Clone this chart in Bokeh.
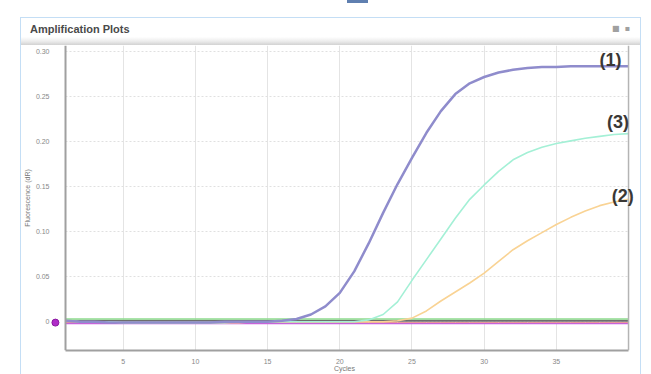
from bokeh.plotting import figure
from bokeh.models import Label, Range1d, FixedTicker, Span, Div
from bokeh.layouts import column
from bokeh.embed import file_html
from bokeh.resources import INLINE

cycles = list(range(1, 41))

curve1 = [0.001, 0.000, 0.000, -0.001, -0.001, -0.001, -0.001, -0.001, -0.001, -0.001,
          -0.001, 0.000, 0.000, 0.000, 0.000, 0.001, 0.003, 0.008, 0.017, 0.032,
          0.056, 0.087, 0.121, 0.153, 0.182, 0.210, 0.234, 0.253, 0.265, 0.272,
          0.277, 0.280, 0.282, 0.283, 0.283, 0.284, 0.284, 0.284, 0.284, 0.284]
curve3 = [0.001, 0.000, 0.000, 0.000, -0.001, -0.001, -0.001, -0.001, -0.001, -0.001,
          -0.001, -0.001, 0.000, 0.000, 0.000, 0.000, 0.000, 0.000, 0.000, 0.000,
          0.000, 0.002, 0.008, 0.022, 0.046, 0.069, 0.092, 0.115, 0.136, 0.152,
          0.167, 0.180, 0.188, 0.194, 0.198, 0.201, 0.204, 0.206, 0.208, 0.209]
curve2 = [0.001, 0.000, 0.000, 0.000, -0.001, -0.001, -0.001, -0.001, -0.001, -0.001,
          -0.001, -0.001, -0.001, 0.000, 0.000, 0.000, 0.000, 0.000, 0.000, 0.000,
          0.000, 0.000, 0.000, 0.001, 0.004, 0.012, 0.023, 0.033, 0.043, 0.054,
          0.067, 0.080, 0.090, 0.099, 0.108, 0.116, 0.123, 0.129, 0.133, 0.136]
base_green = [0.003] * 40
base_gray = [0.001] * 40
base_red = [-0.001] * 40
base_magenta = [-0.002] * 40
threshold_marker = {"cycle": [0.3], "value": [-0.001]}

y_ticks = [0, 0.05, 0.10, 0.15, 0.20, 0.25, 0.30]
y_tick_labels = {0: "0", 0.05: "0.05", 0.10: "0.10", 0.15: "0.15", 0.20: "0.20", 0.25: "0.25", 0.30: "0.30"}
x_ticks = [5, 10, 15, 20, 25, 30, 35]
curve_names = ["(1)", "(3)", "(2)"]
label_cycle = [38.75, 39.27, 39.6]
label_value = [0.291, 0.222, 0.140]

X_START, X_END = 1, 40
BLUE = "#c4def5"

header = Div(
    text=('<div style="position:relative;width:641px;height:45px;font-family:\'Liberation Sans\';">'
          '<div style="position:absolute;left:347px;top:0px;width:21px;height:3px;'
          'background:#5f7fb0;"></div>'
          '<div style="position:absolute;left:20px;top:17px;width:621px;height:28px;'
          'box-sizing:border-box;border-top:1px solid ' + BLUE + ';border-left:1px solid ' + BLUE + ';'
          'border-right:1px solid ' + BLUE + ';'
          'background:linear-gradient(to bottom,#ffffff 0%,#ffffff 70%,#ececec 86%,#d2d2d2 100%);">'
          '<span style="position:absolute;left:9px;top:4px;font-size:11px;font-weight:bold;'
          'color:#4a4a4a;white-space:nowrap;">Amplification Plots</span>'
          '<span style="position:absolute;right:10px;top:5px;font-size:8px;color:#a0a0a0;'
          'font-family:\'DejaVu Sans\';white-space:nowrap;">\u25a0&nbsp;&nbsp;\u25aa</span>'
          '</div></div>'),
    width=641, height=45, margin=0, styles={"overflow": "visible"})

p = figure(width=641, height=329, output_backend="svg", toolbar_location=None, margin=0,
           x_range=Range1d(-0.04, 40.69), y_range=Range1d(-0.032, 0.307),
           min_border_left=50, min_border_right=3, min_border_top=0, min_border_bottom=19,
           styles={"border-right": "1px solid " + BLUE, "box-sizing": "border-box",
                   "background": "linear-gradient(to right, transparent 20px, " + BLUE + " 20px, "
                                 + BLUE + " 21px, transparent 21px)"})
p.background_fill_color = "white"
p.border_fill_color = None
p.outline_line_color = None

p.xaxis.ticker = FixedTicker(ticks=x_ticks)
p.yaxis.ticker = FixedTicker(ticks=y_ticks)
p.yaxis.major_label_overrides = y_tick_labels
for ax in (p.xaxis, p.yaxis):
    ax.axis_line_color = "#a0a0a0"
    ax.axis_line_width = 2
    ax.major_tick_line_color = None
    ax.minor_tick_line_color = None
    ax.major_label_text_font = "Liberation Sans"
    ax.major_label_text_font_size = "7px"
    ax.major_label_text_color = "#888888"
    ax.axis_label_text_font = "Liberation Sans"
    ax.axis_label_text_font_size = "7px"
    ax.axis_label_text_font_style = "normal"
    ax.axis_label_text_color = "#777777"
p.yaxis.axis_line_color = None
p.xaxis.bounds = (X_START, X_END)
p.xaxis.axis_label = "Cycles"
p.yaxis.axis_label = "Fluorescence (dR)"
p.xaxis.major_label_standoff = 2
p.xaxis.axis_label_standoff = -2
p.yaxis.major_label_text_align = "left"
p.yaxis.major_label_standoff = -5
p.yaxis.axis_label_standoff = 2

p.xgrid.grid_line_color = "#e4e4e4"
p.xgrid.grid_line_width = 1
p.ygrid.grid_line_color = "#e0e0e0"
p.ygrid.grid_line_dash = "2 2"
g = p.ygrid[0]
if "cross_bounds" in g.properties():
    g.cross_bounds = (X_START, X_END)

p.add_layout(Span(location=X_START, dimension="height", line_color="#a0a0a0", line_width=2))
p.add_layout(Span(location=X_END, dimension="height", line_color="#b4b4b4", line_width=1.5))

p.line(cycles, base_magenta, line_color="#c45ee0", line_width=1.5)
p.line(cycles, base_red, line_color="#e89090", line_width=1)
p.line(cycles, base_gray, line_color="#6e6e6e", line_width=2)
p.line(cycles, base_green, line_color="#8fdc8f", line_width=1.5)
p.line(cycles, curve2, line_color="#f9d394", line_width=1.6)
p.line(cycles, curve3, line_color="#a4f0d6", line_width=1.6)
p.line(cycles, curve1, line_color="#8f8ccc", line_width=2.5)
p.scatter(threshold_marker["cycle"], threshold_marker["value"], size=7,
          fill_color="#b02cc8", line_color="#8a1aa0")

for name, lx, ly in zip(curve_names, label_cycle, label_value):
    p.add_layout(Label(x=lx, y=ly, text=name, text_align="center", text_baseline="middle",
                       text_font="Liberation Sans", text_font_size="18px",
                       text_font_style="bold", text_color="#3a3835"))

panel = column(header, p, spacing=0, margin=0)

open("out.html", "w").write(file_html(panel, INLINE))
